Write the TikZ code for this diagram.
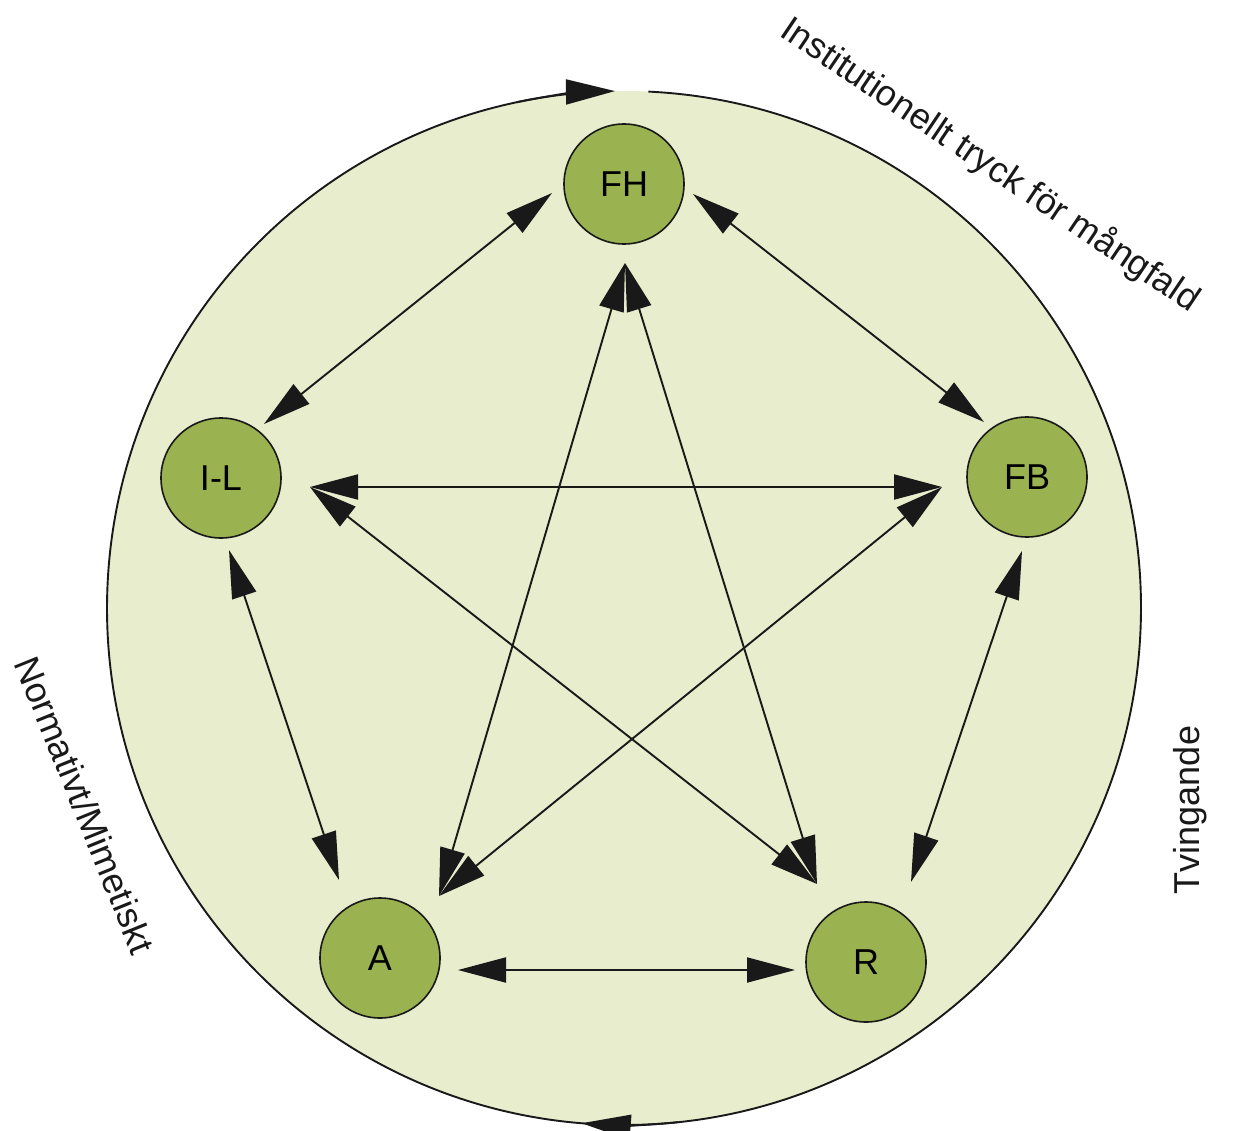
\documentclass[tikz,border=0pt]{standalone}
\usepackage{fontspec}
\setmainfont{Liberation Sans}
\usetikzlibrary{arrows.meta}
\definecolor{bgc}{RGB}{232,237,205}
\definecolor{nodec}{RGB}{155,178,80}
\definecolor{ink}{RGB}{25,25,25}
\begin{document}
\begin{tikzpicture}[x=1pt,y=-1pt,
  nd/.style={circle,draw=ink,line width=1.6pt,fill=nodec,minimum size=120pt,inner sep=0pt,font=\fontsize{36}{40}\selectfont},
  lab/.style={font=\fontsize{36}{40}\selectfont,text=ink,inner sep=0pt},
  conn/.style={line width=1.9pt,draw=ink,>={Triangle[length=48pt,width=25pt]},<->},
  ringline/.style={line width=1.9pt,draw=ink},
  ring/.style={line width=1.9pt,draw=ink,-{Triangle[length=49pt,width=25pt]}}
]
\useasboundingbox (0,0) rectangle (1233,1131);
\coordinate (C) at (624,608);
\fill[bgc] (C) circle[radius=517pt];
\draw[ringline] (C) ++(87.3:517pt) arc[start angle=87.3,end angle=-265,radius=517pt];
\draw[ring] (C) ++(-258:517pt) arc[start angle=-258,end angle=-269,radius=517pt];
\draw[ring] (C) ++(-84:517pt) arc[start angle=-84,end angle=-94.7,radius=517pt];

\node[nd] (FH) at (624,184) {FH};
\node[nd] (IL) at (221,478) {I-L};
\node[nd] (FB) at (1027,477) {FB};
\node[nd] (A) at (380,958) {A};
\node[nd] (R) at (866,962) {R};

\coordinate (fhL) at (552,193);
\coordinate (ilU) at (264,424);
\coordinate (fhR) at (693,194);
\coordinate (fbU) at (984,422);
\coordinate (ilR) at (310,487);
\coordinate (fbL) at (942,487);
\coordinate (ilD) at (229,550);
\coordinate (aU) at (339,880);
\coordinate (fbD) at (1022,551);
\coordinate (rU) at (911,882);
\coordinate (aR) at (458,970);
\coordinate (rL) at (795,970);
\coordinate (fhD) at (625,263);
\coordinate (aT) at (439,896);
\coordinate (rT) at (817,884);

\draw[conn] (fhL) -- (ilU);
\draw[conn] (fhR) -- (fbU);
\draw[conn] (ilR) -- (fbL);
\draw[conn] (ilD) -- (aU);
\draw[conn] (fbD) -- (rU);
\draw[conn] (aR) -- (rL);
\draw[conn] (fhD) -- (aT);
\draw[conn] (fhD) -- (rT);
\draw[conn] (ilR) -- (rT);
\draw[conn] (fbL) -- (aT);

\node[lab,rotate=-34] (inst) at (990,165) {Institutionellt tryck för mångfald};
\node[lab,rotate=90] (tv) at (1190,810) {Tvingande};
\node[lab,rotate=-68] (nm) at (85,805) {Normativt/Mimetiskt};
\end{tikzpicture}
\end{document}
